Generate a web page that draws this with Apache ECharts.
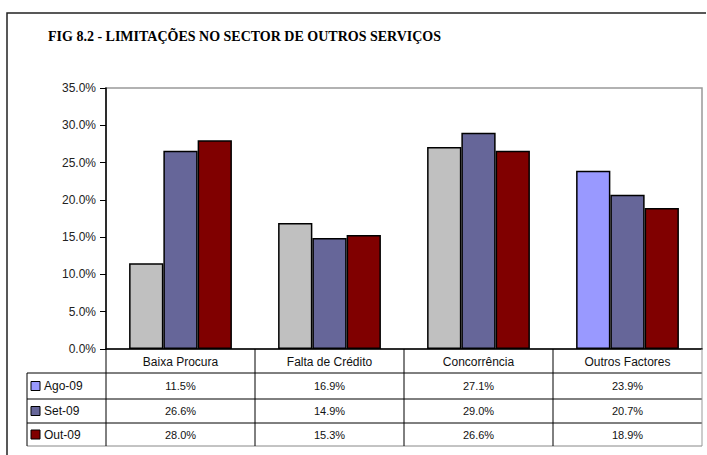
<!DOCTYPE html>
<html>
<head>
<meta charset="utf-8">
<script src="https://cdn.jsdelivr.net/npm/echarts@6/dist/echarts.min.js"></script>
<style>
  html, body { margin: 0; padding: 0; background: #fff; }
  #chart { width: 707px; height: 455px; }
</style>
</head>
<body>
<div id="chart"></div>
<script>
// dados da figura 8.2
var categorias = ['Baixa Procura', 'Falta de Crédito', 'Concorrência', 'Outros Factores'];
var series = ['Ago-09', 'Set-09', 'Out-09'];
var ago09 = [11.5, 16.9, 27.1, 23.9];
var set09 = [26.6, 14.9, 29.0, 20.7];
var out09 = [28.0, 15.3, 26.6, 18.9];
var valores = [ago09, set09, out09];
var cores = ['#9999FF', '#666699', '#800000'];
var coresAgo = ['#C0C0C0', '#C0C0C0', '#C0C0C0', '#9999FF'];

var W = 707, H = 455;
var gLeft = 106, gTop = 88, gRight = 5, gBottom = 106;
var fonte = '"Liberation Sans", Arial, sans-serif';

var chart = echarts.init(document.getElementById('chart'), null, {renderer: 'svg'});

function fmt(v) { return v.toFixed(1) + '%'; }

// tabela de dados por baixo do grafico
function tabela() {
    var els = [];
    var x0 = gLeft, x1 = W - gRight;
    var yAxis = H - gBottom;          // linha do eixo
    var yHead = yAxis + 24;           // fim da linha dos titulos
    var rowH = [26, 24, 23];
    var xTab = 27;
    var colW = (x1 - x0) / categorias.length;
    var line = function (a, b, c, d, cor) {
        els.push({type: 'line', shape: {x1: a, y1: b, x2: c, y2: d},
            style: {stroke: cor || '#000', lineWidth: 1}, z: 10});
    };
    var yEnd = yHead;
    rowH.forEach(function (h) { yEnd += h; });
    // linhas horizontais
    line(xTab, yHead, x1, yHead);
    var yy = yHead;
    rowH.forEach(function (h, i) {
        yy += h;
        line(xTab, yy, x1, yy, i === rowH.length - 1 ? '#888' : '#000');
    });
    // linhas verticais
    line(xTab, yHead, xTab, yEnd);
    for (var c = 0; c <= categorias.length; c++) {
        line(x0 + c * colW, yAxis, x0 + c * colW, yEnd, c === categorias.length ? '#999' : '#000');
    }
    // linhas das series
    yy = yHead;
    series.forEach(function (s, i) {
        var cy = yy + rowH[i] / 2;
        els.push({type: 'rect', shape: {x: 31, y: cy - 4.5, width: 9, height: 9},
            style: {fill: cores[i], stroke: '#000', lineWidth: 1}, z: 10});
        els.push({type: 'text', x: 44, y: cy, style: {text: s, fill: '#111',
            font: '12px ' + fonte, textVerticalAlign: 'middle'}, z: 10});
        valores[i].forEach(function (v, j) {
            els.push({type: 'text', x: x0 + (j + 0.5) * colW, y: cy,
                style: {text: fmt(v), fill: '#111', font: '11px ' + fonte,
                    textAlign: 'center', textVerticalAlign: 'middle'}, z: 10});
        });
        yy += rowH[i];
    });
    // moldura exterior
    els.push({type: 'polyline', shape: {points: [[7, H], [7, 13], [706, 13]]},
        style: {stroke: '#222', lineWidth: 1.5, fill: null}, z: 10});
    // titulo
    els.push({type: 'text', x: 48, y: 36, style: {text: 'FIG 8.2 - LIMITAÇÕES NO SECTOR DE OUTROS SERVIÇOS',
        fill: '#000', font: 'bold 14px "Liberation Serif", "Times New Roman", serif',
        textVerticalAlign: 'middle'}, z: 10});
    return els;
}

var option = {
    animation: false,
    backgroundColor: '#fff',
    grid: {left: gLeft, top: gTop, right: gRight, bottom: gBottom, show: true,
        borderColor: '#999', borderWidth: 1.5},
    xAxis: {
        type: 'category',
        data: categorias,
        axisLine: {lineStyle: {color: '#000', width: 1.5}},
        axisTick: {show: false},
        axisLabel: {color: '#111', fontSize: 12, fontFamily: fonte, margin: 7}
    },
    yAxis: {
        type: 'value',
        min: 0, max: 35, interval: 5,
        axisLine: {show: true, lineStyle: {color: '#000', width: 1.5}},
        axisTick: {show: true, length: 6, lineStyle: {color: '#000'}},
        splitLine: {show: false},
        axisLabel: {color: '#222', fontSize: 12, fontFamily: fonte, margin: 10,
            formatter: function (v) { return v.toFixed(1) + '%'; }}
    },
    series: valores.map(function (vals, i) {
        return {
            name: series[i],
            type: 'bar',
            barGap: '0%',
            barCategoryGap: '31%',
            data: vals.map(function (v, j) {
                return i === 0 ? {value: v, itemStyle: {color: coresAgo[j]}} : v;
            }),
            itemStyle: {color: cores[i], borderColor: '#000', borderWidth: 1.5}
        };
    }),
    graphic: tabela()
};

chart.setOption(option);
</script>
</body>
</html>
